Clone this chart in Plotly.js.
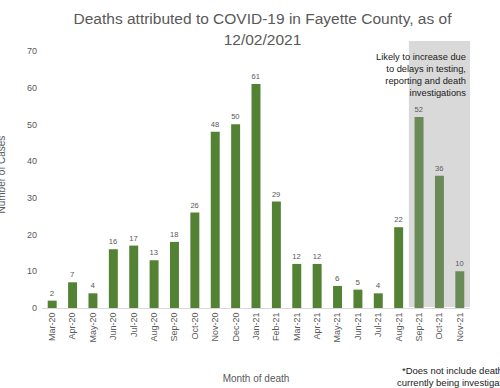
<!DOCTYPE html>
<html>
<head>
<meta charset="utf-8">
<script src="https://cdn.plot.ly/plotly-3.0.1.min.js"></script>
<style>html,body{margin:0;padding:0;background:#fff;}#chart{width:500px;height:388px;}</style>
</head>
<body>
<div id="chart"></div>
<script>
var months = ["Mar-20","Apr-20","May-20","Jun-20","Jul-20","Aug-20","Sep-20","Oct-20","Nov-20","Dec-20","Jan-21","Feb-21","Mar-21","Apr-21","May-21","Jun-21","Jul-21","Aug-21","Sep-21","Oct-21","Nov-21"];
var deaths = [2,7,4,16,17,13,18,26,48,50,61,29,12,12,6,5,4,22,52,36,10];
var provisional = [false,false,false,false,false,false,false,false,false,false,false,false,false,false,false,false,false,false,true,true,true];

var colors = provisional.map(function(p){ return p ? "#6a8a58" : "#548235"; });

var trace = {
  type: "bar",
  x: months,
  y: deaths,
  marker: {color: colors},
  text: deaths.map(String),
  textposition: "outside",
  cliponaxis: false,
  textfont: {family: "Liberation Sans, Arial, sans-serif", size: 8, color: "#595959"},
  hoverinfo: "x+y"
};

var font = "Liberation Sans, Arial, sans-serif";
var layout = {
  width: 500, height: 388,
  margin: {l: 42, r: 30, t: 41, b: 80},
  paper_bgcolor: "#ffffff",
  plot_bgcolor: "rgba(0,0,0,0)",
  showlegend: false,
  bargap: 0.56,
  title: {
    text: "Deaths attributed to COVID-19 in Fayette County, as of<br>12/02/2021",
    font: {family: font, size: 15.5, color: "#595959"},
    x: 0.525, xref: "container", xanchor: "center",
    y: 0.937, yref: "container", yanchor: "top"
  },
  xaxis: {
    type: "category",
    tickangle: -90,
    tickfont: {family: font, size: 9, color: "#595959"},
    showline: true, linecolor: "#d9d9d9", linewidth: 1,
    showgrid: false, ticks: "", ticklen: 0,
    title: {text: "Month of death", font: {family: font, size: 10, color: "#595959"}, standoff: 33}
  },
  yaxis: {
    range: [0, 72.7],
    tickvals: [0,10,20,30,40,50,60,70],
    tickfont: {family: font, size: 9, color: "#595959"},
    showgrid: false, zeroline: false, showline: false,
    ticks: "", ticklabelstandoff: 4
  },
  shapes: [{
    type: "rect", layer: "below",
    xref: "x", yref: "y",
    x0: 17.5, x1: 20.5, y0: 0.3, y1: 72.7,
    fillcolor: "#d9d9d9", line: {width: 0}
  }],
  annotations: [
    {
      text: "Number of Cases", textangle: -90,
      xref: "paper", yref: "paper", x: 0, y: 0.5,
      xshift: -41, xanchor: "center", yanchor: "middle",
      showarrow: false,
      font: {family: font, size: 10, color: "#595959"}
    },
    {
      text: "Likely to increase due<br>to delays in testing,<br>reporting and death<br>investigations",
      xref: "paper", yref: "paper", x: 1, y: 1, xshift: -2, yshift: -9,
      xanchor: "right", yanchor: "top", align: "right",
      showarrow: false,
      font: {family: font, size: 9.3, color: "#1a1a1a"}
    },
    {
      text: "*Does not include deaths<br>currently being investigated",
      xref: "paper", yref: "paper", x: 1, y: 0, xshift: -15, yshift: -55,
      xanchor: "center", yanchor: "top", align: "center",
      showarrow: false,
      font: {family: font, size: 9.5, color: "#1a1a1a"}
    }
  ]
};

Plotly.newPlot("chart", [trace], layout, {displayModeBar: false, responsive: false});
</script>
</body>
</html>
